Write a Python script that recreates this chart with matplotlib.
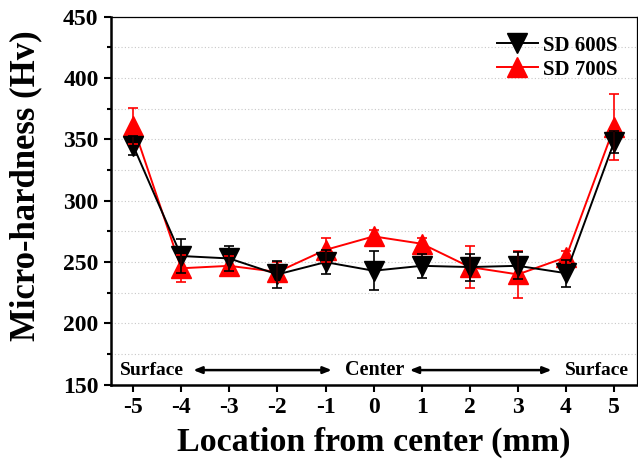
import matplotlib
matplotlib.use("Agg")
import matplotlib.pyplot as plt
from matplotlib.ticker import MultipleLocator

x = [-5, -4, -3, -2, -1, 0, 1, 2, 3, 4, 5]
sd600 = [345, 255, 253, 240, 250, 243, 247, 246, 247, 241, 348]
err600 = [8, 14, 10, 11, 10, 16, 10, 11, 11, 11, 9]
sd700 = [361, 245, 247, 242, 260, 271, 265, 246, 240, 254, 360]
err700 = [15, 11, 8, 8, 10, 5, 5, 17, 19, 5, 27]
xticks = [-5, -4, -3, -2, -1, 0, 1, 2, 3, 4, 5]
yticks = [150, 200, 250, 300, 350, 400, 450]

plt.rcParams['font.family'] = ['Liberation Serif', 'DejaVu Serif']
plt.rcParams['font.weight'] = 'bold'
plt.rcParams['axes.unicode_minus'] = False

fig = plt.figure(figsize=(6.38, 4.67), dpi=100)
ax = fig.add_axes([0.174, 0.176, 0.824, 0.788])

ax.plot(x, sd700, color='red', lw=1.4, marker='^', ms=14, zorder=3, label='SD 700S')
ax.plot(x, sd600, color='black', lw=1.4, marker='v', ms=14, zorder=4, label='SD 600S')
ax.errorbar(x, sd700, yerr=err700, fmt='none', ecolor='red', elinewidth=1.2, capsize=3.5, capthick=1.2, zorder=5)
ax.errorbar(x, sd600, yerr=err600, fmt='none', ecolor='black', elinewidth=1.2, capsize=3.5, capthick=1.2, zorder=5)

ax.set_xlim(-5.46, 5.47)
ax.set_ylim(150, 450)
ax.set_xticks(xticks)
ax.set_yticks(yticks)
ax.yaxis.set_minor_locator(MultipleLocator(25))
ax.tick_params(axis='both', which='major', direction='out', length=5, width=1.5, labelsize=17, pad=4)
ax.tick_params(axis='y', which='minor', direction='out', length=3, width=1.5)
ax.tick_params(top=False, right=False)
for lab in ax.get_xticklabels() + ax.get_yticklabels():
    lab.set_fontweight('bold')

ax.grid(True, axis='y', which='both', color='#c8c8c8', linestyle=(0, (1, 2)), lw=0.8)
ax.set_axisbelow(True)

ax.spines['left'].set_linewidth(1.8)
ax.spines['bottom'].set_linewidth(1.8)
ax.spines['top'].set_linewidth(0.9)
ax.spines['right'].set_linewidth(0.9)

ax.set_xlabel('Location from center (mm)', fontsize=24.5, fontweight='bold', labelpad=6)
ax.set_ylabel('Micro-hardness (Hv)', fontsize=25, fontweight='bold')
ax.yaxis.set_label_coords(-0.131, 0.54)

handles, labels = ax.get_legend_handles_labels()
ax.legend(handles[::-1], labels[::-1], loc='upper right', frameon=False,
          prop={'weight': 'bold', 'size': 15}, handlelength=2.0, borderaxespad=0.5, labelspacing=0.2,
          handletextpad=0.25)

ty = 162
ax.text(-4.6, ty, 'Surface', ha='center', va='center', fontsize=14, fontweight='bold')
ax.text(0.02, ty, 'Center', ha='center', va='center', fontsize=14.5, fontweight='bold')
ax.text(4.65, ty, 'Surface', ha='center', va='center', fontsize=14, fontweight='bold')
arrow = dict(arrowstyle='<|-|>,head_length=0.5,head_width=0.2', color='black', lw=1.8, shrinkA=0, shrinkB=0)
ax.annotate('', xy=(-0.87, ty), xytext=(-3.75, ty), arrowprops=arrow)
ax.annotate('', xy=(3.7, ty), xytext=(0.75, ty), arrowprops=arrow)

fig.savefig('out.png', dpi=100)
